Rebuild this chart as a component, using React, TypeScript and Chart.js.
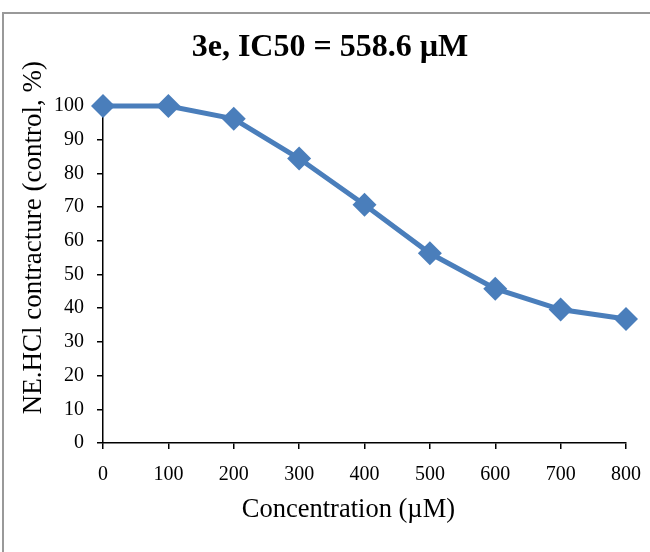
import React, { useEffect, useRef } from "react";
import { Chart, registerables } from "chart.js";

Chart.register(...registerables);

const concentrations = [0, 100, 200, 300, 400, 500, 600, 700, 800];
const contracture = [100, 100, 96.2, 84.4, 70.7, 56.3, 45.8, 39.6, 36.8];
const xTickStep = 100;
const yTickStep = 10;
const xRange = [0, 800];
const yRange = [0, 100];
const chartTitle = "3e, IC50 = 558.6 µM";
const xTitle = "Concentration (µM)";
const yTitle = "NE.HCl contracture (control, %)";

const SERIF = '"Liberation Serif", "Times New Roman", serif';
const PAD_LEFT = 34;

const axisTitlesPlugin = {
  id: "axisTitles",
  afterDraw(chart: any) {
    const { ctx } = chart;
    ctx.save();
    ctx.fillStyle = "#000";
    ctx.textAlign = "center";
    ctx.textBaseline = "alphabetic";
    ctx.font = `26.5px ${SERIF}`;
    ctx.fillText(xTitle, chart.width * 0.536, chart.height * 0.937);
    ctx.font = `27px ${SERIF}`;
    ctx.translate(41, chart.height * 0.4305);
    ctx.rotate(-Math.PI / 2);
    ctx.fillText(yTitle, 0, 0);
    ctx.restore();
  },
};

export default function App() {
  const canvasRef = useRef<HTMLCanvasElement | null>(null);

  useEffect(() => {
    if (!canvasRef.current) return;
    const chart = new Chart(canvasRef.current, {
      type: "line",
      data: {
        datasets: [
          {
            data: concentrations.map((x, i) => ({ x, y: contracture[i] })),
            borderColor: "#4A7EBB",
            backgroundColor: "#4A7EBB",
            borderWidth: 5,
            pointStyle: "rectRot",
            pointRadius: 12,
            pointHoverRadius: 12,
            pointBorderWidth: 0,
            pointBackgroundColor: "#4A7EBB",
            tension: 0,
            clip: false as any,
          },
        ],
      },
      options: {
        animation: false,
        responsive: false,
        maintainAspectRatio: false,
        layout: { padding: { left: PAD_LEFT, right: 24, top: 0, bottom: 0 } },
        plugins: {
          legend: { display: false },
          tooltip: { enabled: false },
          title: {
            display: true,
            text: chartTitle,
            color: "#000",
            font: { family: SERIF, size: 32, weight: "bold" },
            padding: { top: 28.5, bottom: 39.1 },
          },
        },
        scales: {
          x: {
            type: "linear",
            min: xRange[0],
            max: xRange[1],
            ticks: {
              stepSize: xTickStep,
              color: "#000",
              font: { family: SERIF, size: 20 },
              padding: 14,
              maxRotation: 0,
            },
            grid: {
              drawOnChartArea: false,
              drawTicks: true,
              tickLength: 6,
              color: "#000",
              tickColor: "#000",
              lineWidth: 1.5,
            },
            border: { color: "#000", width: 1.5 },
            afterFit: (scale: any) => {
              scale.height = 109;
              scale.paddingRight = 0;
              scale.paddingLeft = 0;
            },
          },
          y: {
            type: "linear",
            min: yRange[0],
            max: yRange[1],
            ticks: {
              stepSize: yTickStep,
              color: "#000",
              font: { family: SERIF, size: 20 },
              padding: 13,
            },
            grid: {
              drawOnChartArea: false,
              drawTicks: true,
              tickLength: 6,
              color: "#000",
              tickColor: "#000",
              lineWidth: 1.5,
            },
            border: { color: "#000", width: 1.5 },
            afterFit: (scale: any) => {
              scale.width = 103 - PAD_LEFT;
              scale.paddingTop = 0;
              scale.paddingBottom = 0;
            },
          },
        },
      },
      plugins: [axisTitlesPlugin],
    });
    return () => chart.destroy();
  }, []);

  return (
    <div
      style={{
        position: "fixed",
        left: 0,
        top: 0,
        width: 650,
        height: 552,
        background: "#fff",
        overflow: "hidden",
      }}
    >
      <div
        style={{
          position: "absolute",
          left: 2,
          top: 12,
          width: 700,
          height: 600,
          borderLeft: "2px solid #999",
          borderTop: "2px solid #999",
        }}
      />
      <canvas
        ref={canvasRef}
        width={650}
        height={552}
        style={{ position: "absolute", left: 0, top: 0 }}
      />
    </div>
  );
}
